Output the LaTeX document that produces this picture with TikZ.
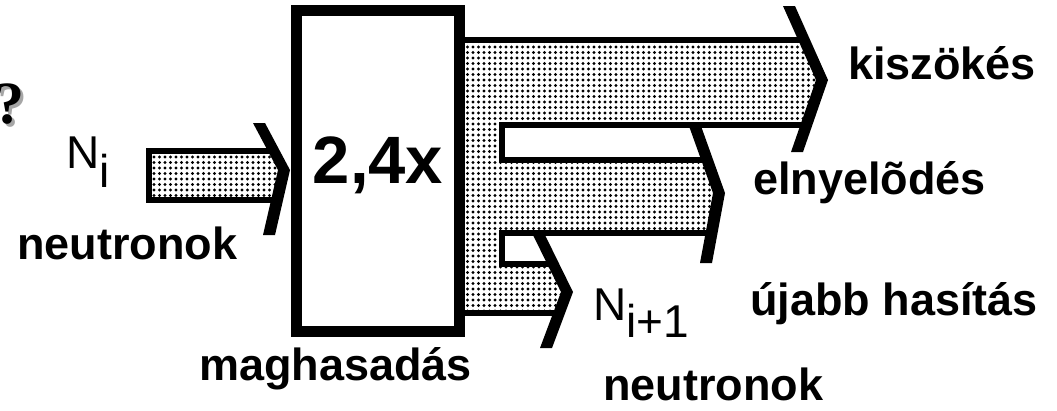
\documentclass[tikz,border=0pt]{standalone}
\usepackage{fontspec}
\setmainfont{Liberation Sans}
\newfontfamily\kerdesfont{Liberation Serif}
\usetikzlibrary{patterns.meta}

\begin{document}
\begin{tikzpicture}[x=1pt, y=-1pt,
    txt/.style={font=\fontsize{45}{50}\selectfont\bfseries, inner sep=0, anchor=base west},
    ntxt/.style={font=\fontsize{46}{50}\selectfont, inner sep=0, anchor=base west},
    bigtxt/.style={font=\fontsize{67}{70}\selectfont\bfseries, inner sep=0, anchor=base},
    shaft/.style={line width=6pt},
    pont/.style={pattern={Dots[radius=1.6pt, distance=5.5pt]}},
    head/.style={fill=black}
]
    \useasboundingbox (0,0) rectangle (1057,410);

    % kerdojel, arnyekkal
    \node[font=\kerdesfont\fontsize{60}{66}\selectfont\bfseries, inner sep=0, anchor=base west] (kerdes) at (-6,123)
        {\rlap{\hspace{3pt}\raisebox{-3pt}{\textcolor{black!35}{?}}}?};

    % bejovo neutronok
    \fill[pont] (149,151) -- (274,151) -- (284,170) -- (277,200) -- (149,200) -- cycle;
    \draw[shaft] (274,151) -- (149,151) -- (149,200) -- (277,200);
    \fill[head] (253,123) -- (265,123) -- (290,170) -- (275,235) -- (263,235) -- (278,170) -- cycle;

    % kimeno aramok
    \fill[pont] (459,40) -- (804,40) -- (822,80) -- (806,125) -- (502,125) -- (502,160)
        -- (707,160) -- (719,193) -- (711,233) -- (502,233) -- (502,264)
        -- (553,264) -- (567,292) -- (559,313) -- (459,313) -- cycle;
    \draw[shaft] (459,40) -- (804,40);
    \draw[shaft] (806,125) -- (502,125) -- (502,160) -- (707,160);
    \draw[shaft] (711,233) -- (502,233) -- (502,264) -- (553,264);
    \draw[shaft] (559,313) -- (459,313);
    \fill[head] (783,6) -- (795,6) -- (828,80) -- (803,152) -- (791,152) -- (816,80) -- cycle;
    \fill[head] (689,126) -- (701,126) -- (725,193) -- (712,263) -- (700,263) -- (713,193) -- cycle;
    \fill[head] (533,235) -- (545,235) -- (573,292) -- (552,348) -- (540,348) -- (561,292) -- cycle;

    % maghasadas doboz
    \node[draw, fill=white, line width=11pt, minimum width=163pt, minimum height=321pt, inner sep=0] (hasadas) at (378,171) {};
    \node[bigtxt] (szorzo) at (378,183) {2,4x};

    % feliratok
    \node[ntxt] (ni) at (66,168) {N\raisebox{-19pt}{i}};
    \node[txt] (neutronbe) at (17,259) {neutronok};
    \node[txt] (maghasadas) at (199,380) {maghasadás};
    \node[txt] (kiszokes) at (848,79) {kiszökés};
    \node[txt] (elnyelodes) at (753,194) {elnyelõdés};
    \node[txt] (ujabb) at (750,315) {újabb hasítás};
    \node[ntxt] (ni1) at (593,320) {N\raisebox{-17pt}{i+1}};
    \node[txt] (neutronki) at (603,400) {neutronok};
\end{tikzpicture}
\end{document}
